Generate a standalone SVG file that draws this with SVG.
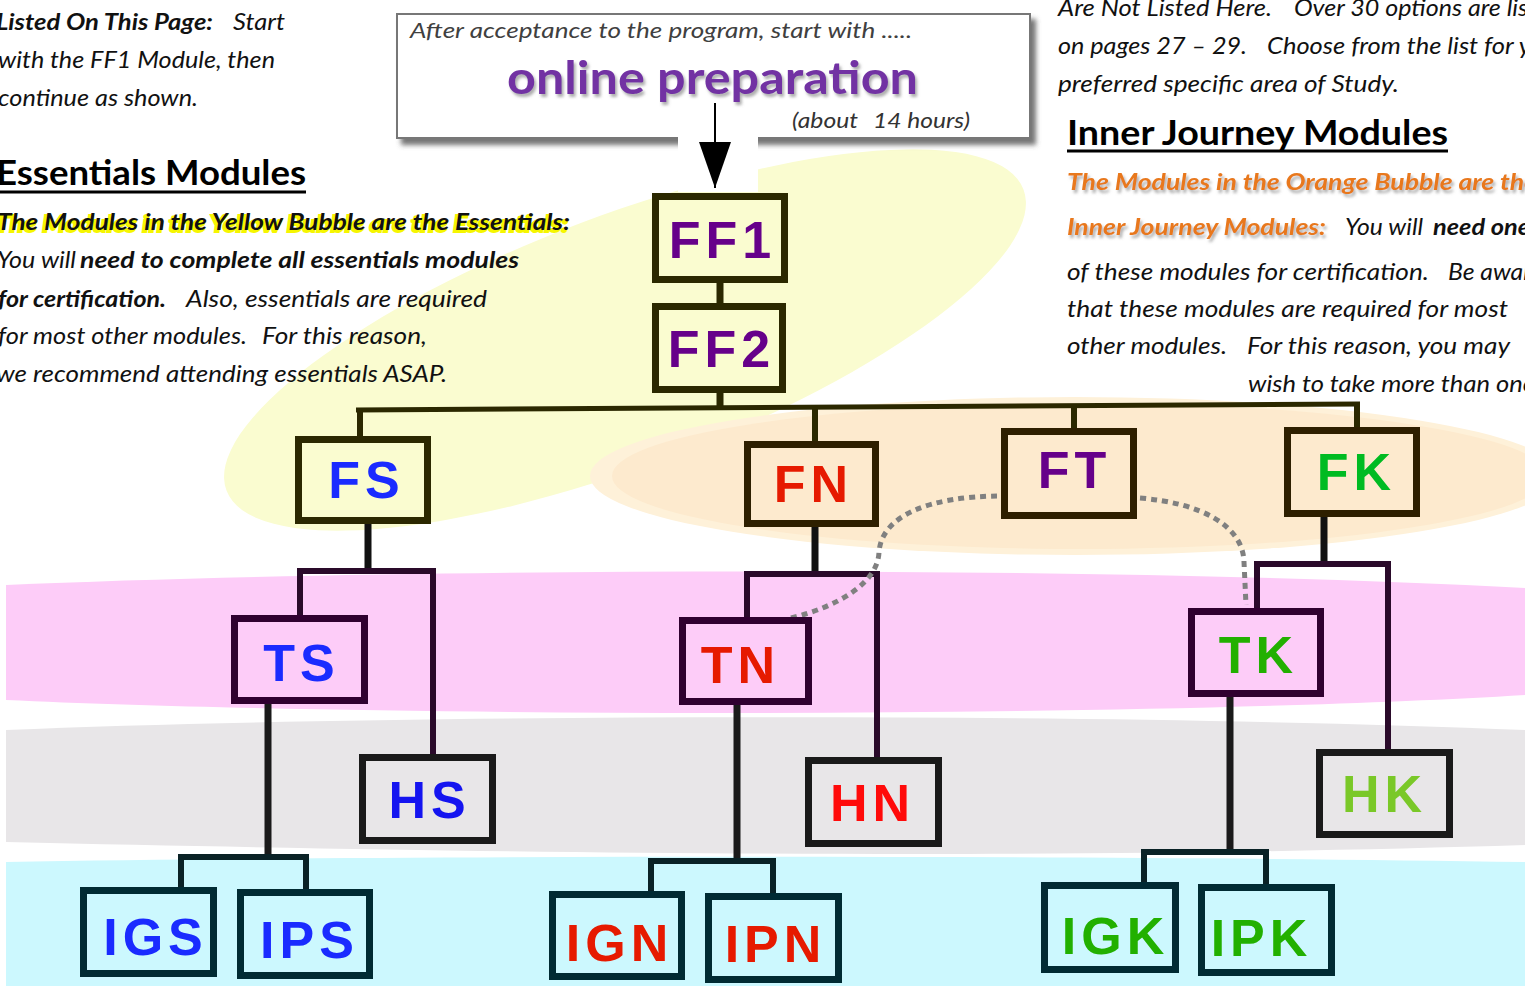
<svg xmlns="http://www.w3.org/2000/svg" width="1525" height="986" viewBox="0 0 1525 986">
<defs>
<style>
.t{font-family:Lato,"Open Sans","Liberation Sans",sans-serif;font-size:23px;font-style:italic;fill:#111}
.b{font-weight:bold}
.hd{font-family:Lato,"Open Sans","Liberation Sans",sans-serif;font-size:35px;font-weight:bold;fill:#000}
.or{fill:#e8781e;font-weight:bold}
.lbl{font-family:"Liberation Sans",Arial,sans-serif;font-weight:bold;font-size:52px;letter-spacing:5px;text-anchor:middle}
.box{stroke-width:7}
.yb{fill:#fafcd0;stroke:#2b2800}
.ob{fill:#fdeace;stroke:#2e1f00}
.pb{fill:#fdccf8;stroke:#300030}
.gb{fill:#e8e6e8;stroke:#1a1a1a}
.cb{fill:#ccf8fe;stroke:#002b33}
.pu{fill:#66008a}
.bl{fill:#1a2bff}
.rd{fill:#e61a00}
.gr{fill:#22b000}
</style>
<filter id="boxsh" x="-5%" y="-10%" width="115%" height="130%">
<feDropShadow dx="5" dy="6" stdDeviation="2.5" flood-color="#555" flood-opacity="0.8"/>
</filter>
<filter id="txsh" x="-5%" y="-30%" width="110%" height="160%">
<feDropShadow dx="2" dy="3" stdDeviation="1.5" flood-color="#777" flood-opacity="0.6"/>
</filter>
<marker id="ah" viewBox="0 0 46 32" refX="46" refY="16" markerWidth="46" markerHeight="32" markerUnits="userSpaceOnUse" orient="auto">
<path d="M0,0 L46,16 L0,32 Z" fill="#000"/>
</marker>
</defs>

<g id="bubbles">
<path d="M6,585 C 400,568 1100,565 1525,588 L1525,695 C 1150,718 400,718 6,700 Z" fill="#fdccf8"/>
<path d="M6,730 C 400,714 1100,712 1525,730 L1525,845 C 1200,855 800,860 6,842 Z" fill="#e8e6e8"/>
<path d="M6,862 C 400,855 1100,855 1525,862 L1525,986 L6,986 Z" fill="#ccf8fe"/>
<ellipse cx="625" cy="340" rx="426" ry="125" transform="rotate(-20.7 625 340)" fill="#fafcd0"/>
<ellipse cx="1075" cy="476" rx="485" ry="79" fill="#fef1d9"/>
<ellipse cx="1080" cy="476" rx="468" ry="73" fill="#fdeace"/>
</g>

<g id="online-preparation">
<rect x="397" y="14" width="633" height="124" fill="#fff" stroke="#777" stroke-width="2" filter="url(#boxsh)"/>
<text class="t" x="410" y="38" textLength="502" lengthAdjust="spacingAndGlyphs" style="fill:#404040;font-size:22px">After acceptance to the program, start with .....</text>
<text x="507" y="94" textLength="411" lengthAdjust="spacingAndGlyphs" filter="url(#txsh)" style="font-family:Lato,'Open Sans',sans-serif;font-weight:bold;font-size:46px;fill:#7232a3">online preparation</text>
<text class="t" x="792" y="128" textLength="66" lengthAdjust="spacingAndGlyphs" style="fill:#333;font-size:22px">(about</text>
<text class="t" x="873" y="128" textLength="97" lengthAdjust="spacingAndGlyphs" style="fill:#333;font-size:22px">14 hours)</text>
<rect x="678" y="137" width="80" height="55" fill="#fff"/>
</g>

<g id="text-left">
<text class="t b" x="-4" y="30" textLength="217" lengthAdjust="spacingAndGlyphs">Listed On This Page:</text>
<text class="t" x="233" y="30" textLength="52" lengthAdjust="spacingAndGlyphs">Start</text>
<text class="t" x="-2" y="68" textLength="277" lengthAdjust="spacingAndGlyphs">with the FF1 Module, then</text>
<text class="t" x="-2" y="106" textLength="200" lengthAdjust="spacingAndGlyphs">continue as shown.</text>
<text class="hd" x="-4" y="185" textLength="310" lengthAdjust="spacingAndGlyphs">Essentials Modules</text>
<line x1="0" y1="192" x2="306" y2="192" stroke="#000" stroke-width="3"/>
<text class="t b" x="-5" y="232" textLength="573" lengthAdjust="spacingAndGlyphs" style="fill:#f6f600;stroke:#f6f600;stroke-width:2">The Modules in the Yellow Bubble are the Essentials:</text>
<text class="t b" x="-3" y="230" textLength="573" lengthAdjust="spacingAndGlyphs">The Modules in the Yellow Bubble are the Essentials:</text>
<text class="t" x="-3" y="268" textLength="79" lengthAdjust="spacingAndGlyphs">You will</text>
<text class="t b" x="80" y="268" textLength="439" lengthAdjust="spacingAndGlyphs">need to complete all essentials modules</text>
<text class="t b" x="-2" y="307" textLength="168" lengthAdjust="spacingAndGlyphs">for certification.</text>
<text class="t" x="186" y="307" textLength="301" lengthAdjust="spacingAndGlyphs">Also, essentials are required</text>
<text class="t" x="-2" y="344" textLength="249" lengthAdjust="spacingAndGlyphs">for most other modules.</text>
<text class="t" x="262" y="344" textLength="165" lengthAdjust="spacingAndGlyphs">For this reason,</text>
<text class="t" x="-4" y="382" textLength="451" lengthAdjust="spacingAndGlyphs">we recommend attending essentials ASAP.</text>
</g>

<g id="text-right">
<text class="t" x="1058" y="16" textLength="214" lengthAdjust="spacingAndGlyphs">Are Not Listed Here.</text>
<text class="t" x="1294" y="16" textLength="268" lengthAdjust="spacingAndGlyphs">Over 30 options are listed</text>
<text class="t" x="1058" y="54" textLength="189" lengthAdjust="spacingAndGlyphs">on pages 27 – 29.</text>
<text class="t" x="1267" y="54" textLength="299" lengthAdjust="spacingAndGlyphs">Choose from the list for your</text>
<text class="t" x="1058" y="92" textLength="341" lengthAdjust="spacingAndGlyphs">preferred specific area of Study.</text>
<text class="hd" x="1067" y="145" textLength="381" lengthAdjust="spacingAndGlyphs">Inner Journey Modules</text>
<line x1="1067" y1="151" x2="1448" y2="151" stroke="#000" stroke-width="3"/>
<text class="t or" x="1067" y="190" textLength="470" lengthAdjust="spacingAndGlyphs" filter="url(#txsh)">The Modules in the Orange Bubble are the</text>
<text class="t or" x="1067" y="235" textLength="259" lengthAdjust="spacingAndGlyphs" filter="url(#txsh)">Inner Journey Modules:</text>
<text class="t" x="1345" y="235" textLength="78" lengthAdjust="spacingAndGlyphs">You will</text>
<text class="t b" x="1433" y="235" textLength="97" lengthAdjust="spacingAndGlyphs">need one</text>
<text class="t" x="1067" y="280" textLength="362" lengthAdjust="spacingAndGlyphs">of these modules for certification.</text>
<text class="t" x="1448" y="280" textLength="95" lengthAdjust="spacingAndGlyphs">Be aware</text>
<text class="t" x="1067" y="317" textLength="441" lengthAdjust="spacingAndGlyphs">that these modules are required for most</text>
<text class="t" x="1067" y="354" textLength="160" lengthAdjust="spacingAndGlyphs">other modules.</text>
<text class="t" x="1247" y="354" textLength="263" lengthAdjust="spacingAndGlyphs">For this reason, you may</text>
<text class="t" x="1248" y="392" textLength="287" lengthAdjust="spacingAndGlyphs">wish to take more than one</text>
</g>

<g id="connectors" fill="none">
<path d="M715,103 V188" stroke="#000" stroke-width="2" marker-end="url(#ah)"/>
<path d="M720,283 V303 M720,393 V410" stroke="#2b2800" stroke-width="7"/>
<path d="M356,410 L1360,404" stroke="#2b2800" stroke-width="5"/>
<path d="M360,410 V437 M815,408 V442 M1074,406 V429 M1357,404 V428" stroke="#2b2800" stroke-width="6"/>
<path d="M368,523 V571 M815,527 V574 M1324,516 V564" stroke="#111" stroke-width="7"/>
<path d="M300,617 V571 H433 V755" stroke="#2a0a2a" stroke-width="6"/>
<path d="M747,618 V574 H877 V758" stroke="#2a0a2a" stroke-width="6"/>
<path d="M1257,609 V564 H1388 V750" stroke="#2a0a2a" stroke-width="6"/>
<path d="M268,703 V857 M737,705 V861 M1230,697 V852" stroke="#1a1a1a" stroke-width="7"/>
<path d="M181,888 V857 H306 V890" stroke="#0a2226" stroke-width="6"/>
<path d="M651,892 V861 H773 V894" stroke="#0a2226" stroke-width="6"/>
<path d="M1144,882 V852 H1266 V884" stroke="#0a2226" stroke-width="6"/>
<path d="M791,618 C840,606 878,582 879,552 C882,515 930,497 997,496" stroke="#808080" stroke-width="5" stroke-dasharray="6 5"/>
<path d="M1140,498 C1200,503 1243,525 1244,562 L1246,605" stroke="#808080" stroke-width="5" stroke-dasharray="6 5"/>
</g>

<g id="node-FF1"><rect class="box yb" x="655.5" y="196.5" width="129" height="83"/><text class="lbl pu" x="722.5" y="258">FF1</text></g>
<g id="node-FF2"><rect class="box yb" x="655.5" y="306.5" width="127" height="83"/><text class="lbl pu" x="721.5" y="367">FF2</text></g>
<g id="node-FS"><rect class="box yb" x="298.5" y="439.5" width="129" height="81"/><text class="lbl bl" x="366.5" y="498">FS</text></g>
<g id="node-FN"><rect class="box ob" x="747.5" y="444.5" width="128" height="79"/><text class="lbl rd" x="813.5" y="502">FN</text></g>
<g id="node-FT"><rect class="box ob" x="1004.5" y="431.5" width="129" height="84"/><text class="lbl pu" x="1074.5" y="488">FT</text></g>
<g id="node-FK"><rect class="box ob" x="1287.5" y="430.5" width="129" height="83"/><text class="lbl" x="1356.5" y="490" style="fill:#00bb22">FK</text></g>
<g id="node-TS"><rect class="box pb" x="234.5" y="618.5" width="130" height="82"/><text class="lbl bl" x="301.5" y="681">TS</text></g>
<g id="node-TN"><rect class="box pb" x="682.5" y="620.5" width="126" height="81"/><text class="lbl rd" x="740.5" y="683">TN</text></g>
<g id="node-TK"><rect class="box pb" x="1191.5" y="611.5" width="129" height="82"/><text class="lbl gr" x="1258.5" y="673">TK</text></g>
<g id="node-HS"><rect class="box gb" x="362.5" y="757.5" width="130" height="83"/><text class="lbl" x="429.5" y="818" style="fill:#1414f0">HS</text></g>
<g id="node-HN"><rect class="box gb" x="808.5" y="760.5" width="130" height="83"/><text class="lbl" x="872.5" y="821" style="fill:#ff0a0a">HN</text></g>
<g id="node-HK"><rect class="box gb" x="1319.5" y="752.5" width="130" height="82"/><text class="lbl" x="1384.5" y="812" style="fill:#7ac828">HK</text></g>
<g id="node-IGS"><rect class="box cb" x="83.5" y="890.5" width="130" height="83"/><text class="lbl bl" x="155.5" y="955">IGS</text></g>
<g id="node-IPS"><rect class="box cb" x="240.5" y="892.5" width="129" height="83"/><text class="lbl bl" x="309.5" y="958">IPS</text></g>
<g id="node-IGN"><rect class="box cb" x="552.5" y="894.5" width="129" height="82"/><text class="lbl rd" x="619.5" y="961">IGN</text></g>
<g id="node-IPN"><rect class="box cb" x="708.5" y="896.5" width="130" height="83"/><text class="lbl rd" x="775.5" y="962">IPN</text></g>
<g id="node-IGK"><rect class="box cb" x="1044.5" y="885.5" width="131" height="84"/><text class="lbl gr" x="1115.5" y="954">IGK</text></g>
<g id="node-IPK"><rect class="box cb" x="1201.5" y="887.5" width="130" height="85"/><text class="lbl gr" x="1261.5" y="956">IPK</text></g>
</svg>
